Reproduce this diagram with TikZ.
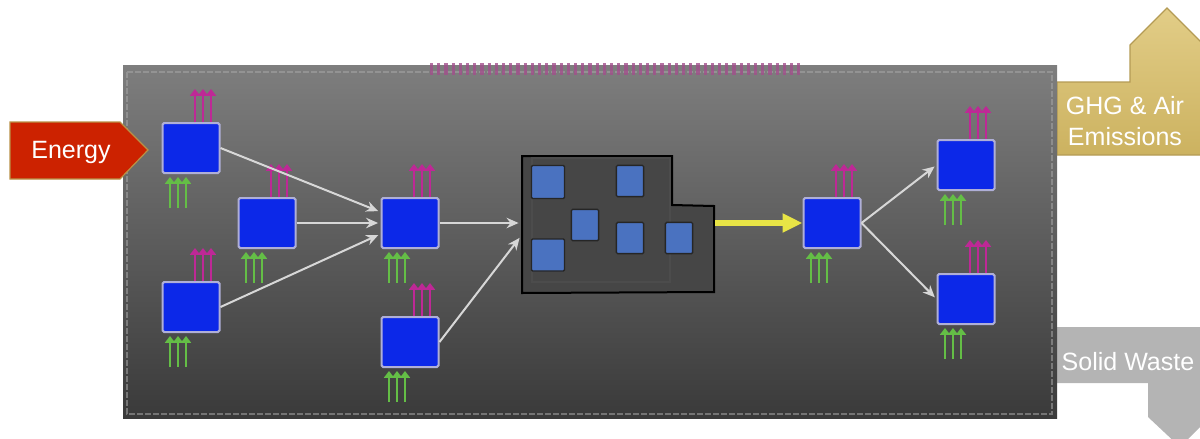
\documentclass[tikz,border=0pt]{standalone}
\usepackage{fontspec}
\setmainfont{Liberation Sans}
\usepackage{xcolor}
\usepackage{tikz}
\usetikzlibrary{calc}
\usetikzlibrary{arrows.meta}
\usetikzlibrary{positioning}

\definecolor{procblue}{RGB}{12,40,232}
\definecolor{procedge}{RGB}{175,175,215}
\definecolor{unitblue}{RGB}{74,114,192}
\definecolor{flowgray}{RGB}{215,215,215}
\definecolor{emispink}{RGB}{190,40,150}
\definecolor{feedgreen}{RGB}{100,190,70}
\definecolor{yellowarr}{RGB}{232,228,70}
\definecolor{paneltop}{RGB}{126,126,126}
\definecolor{panelbot}{RGB}{58,58,58}
\definecolor{facgray}{RGB}{70,70,70}
\definecolor{energyred}{RGB}{204,34,0}
\definecolor{energyedge}{RGB}{185,145,70}
\definecolor{ghgtop}{RGB}{226,205,135}
\definecolor{ghgbot}{RGB}{204,178,96}
\definecolor{ghgedge}{RGB}{180,155,85}
\definecolor{wastegray}{RGB}{180,180,180}

\begin{document}
\begin{tikzpicture}[x=0.25mm,y=-0.25mm,
	proc/.style={draw=procedge,fill=procblue,line width=0.5mm,rounded corners=0.4mm,minimum width=14.25mm,minimum height=12.5mm,inner sep=0pt},
	unit/.style={draw=black!85,fill=unitblue,line width=0.35mm,rounded corners=0.3mm,minimum width=6.8mm,minimum height=7.8mm,inner sep=0pt},
	flow/.style={draw=flowgray,line width=0.5mm,shorten >=0.6mm,-{Stealth[length=3mm,width=2.6mm]}},
	emis/.style={draw=emispink,line width=0.6mm,-{Triangle[length=1.7mm,width=2.5mm]}},
	feed/.style={draw=feedgreen,line width=0.6mm,-{Triangle[length=1.7mm,width=2.5mm]}},
	label/.style={text=white,font=\fontsize{17.8}{22}\selectfont,align=center,inner sep=0pt}]
		\useasboundingbox (0,0) rectangle (1200,438);
		% outputs on the right, partly under the panel
		\shadedraw[top color=ghgtop,bottom color=ghgbot,draw=ghgedge,line width=0.3mm] (1057,82) -- (1130,82) -- (1130,45) -- (1167,8) -- (1206,47) -- (1206,155) -- (1057,155) -- cycle;
		\fill[wastegray] (1057,327) -- (1210,327) -- (1210,417) -- (1180,447) -- (1148,417) -- (1148,383) -- (1057,383) -- cycle;
		\node[label] (ghg) at (1125,121) {GHG \& Air\\Emissions};
		\node[label] (waste) at (1128,362) {Solid Waste};
		% the plant panel
		\shade[top color=paneltop,bottom color=panelbot] (123,65) rectangle (1057,418);
		\draw[gray!70,opacity=0.55,line width=0.3mm,dash pattern=on 1.5mm off 0.5mm] (127,72) rectangle (1052,414);
		\draw[emispink!55!gray,opacity=0.8,line width=3mm,dash pattern=on 0.8mm off 1mm] (430,69) -- (800,69);
		% energy input
		\filldraw[fill=energyred,draw=energyedge,line width=0.3mm] (10,122) -- (120,122) -- (148,150) -- (120,179) -- (10,179) -- cycle;
		\node[label] (energy) at (71,152) {Energy};
		% process boxes
		\node[proc] (b1) at (191,148) {};
		\node[proc] (b2) at (267,223) {};
		\node[proc] (b3) at (191,307) {};
		\node[proc] (b4) at (410,223) {};
		\node[proc] (b5) at (410,342) {};
		\node[proc] (b6) at (832,223) {};
		\node[proc] (b7) at (966,165) {};
		\node[proc] (b8) at (966,299) {};
		\foreach \i in {1,...,8} {
			\foreach \dx in {4,12,20}
				\draw[emis] ($(b\i.north)+(\dx,0)$) -- ++(0,-33);
			\foreach \dx in {-21,-13,-5}
				\draw[feed] ($(b\i.south)+(\dx,34)$) -- ++(0,-31);
		}
		% the central unit
		\filldraw[fill=facgray,draw=black,line width=0.5mm] (522,156) -- (672,156) -- (672,205) -- (714,206) -- (714,292) -- (522,293) -- cycle;
		\draw[black!70,line width=0.4mm] (532,158) rectangle (670,282);
		\node[unit,minimum width=8.25mm,minimum height=8.25mm] (u1) at (548,182) {};
		\node[unit] (u2) at (630,181) {};
		\node[unit] (u3) at (585,225) {};
		\node[unit,minimum width=8.25mm,minimum height=8mm] (u4) at (548,255) {};
		\node[unit] (u5) at (630,238) {};
		\node[unit] (u6) at (679,238) {};
		\coordinate (facin) at (521,223);
		\coordinate (facin2) at (521,236);
		\coordinate (facout) at (715,223);
		% flows
		\draw[flow] (b1.east) -- ([yshift=2.75mm]b4.west);
		\draw[flow] (b2.east) -- (b4.west);
		\draw[flow] (b3.east) -- ([yshift=-2.75mm]b4.west);
		\draw[flow] (b4.east) -- (facin);
		\draw[flow] (b5.east) -- (facin2);
		\draw[yellowarr,line width=1.3mm,-{Triangle[length=5mm,width=4.5mm]}] (facout) -- (b6.west);
		\draw[flow] (b6.east) -- (b7.west);
		\draw[flow] (b6.east) -- (b8.west);
	\end{tikzpicture}
\end{document}
